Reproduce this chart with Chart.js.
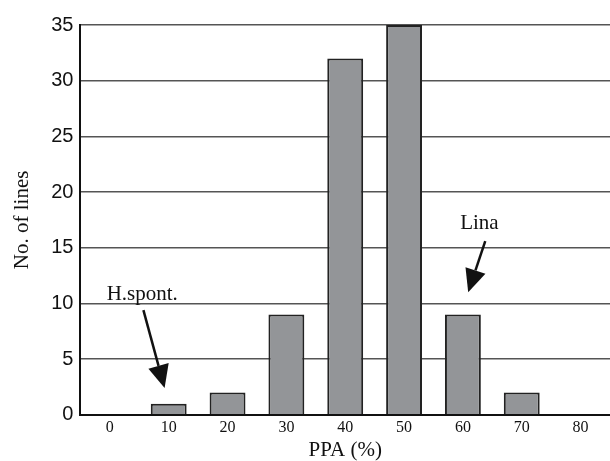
<!DOCTYPE html>
<html>
<head>
<meta charset="utf-8">
<script src="https://cdn.jsdelivr.net/npm/chart.js@4/dist/chart.umd.min.js"></script>
<style>
  html, body { margin: 0; padding: 0; background: #fff; }
  #wrap { width: 610px; height: 461px; }
</style>
</head>
<body>
<div id="wrap"><canvas id="ppaChart" width="610" height="461"></canvas></div>
<script>
// PPA histogram - number of lines per PPA class
const PPA_CLASSES = ['0', '10', '20', '30', '40', '50', '60', '70', '80'];
const LINE_COUNTS = [0, 1, 2, 9, 32, 35, 9, 2, 0];
const Y_TICKS = [0, 5, 10, 15, 20, 25, 30, 35];

// callouts, in data units (category index, count)
const CALLOUTS = [
  { text: 'H.spont.', label: [0.55, 10.8], from: [0.57, 9.4], to: [0.93, 2.4] },
  { text: 'Lina',     label: [6.28, 17.2], from: [6.38, 15.6], to: [6.09, 11.0] },
];

const SERIF = '"Liberation Serif", "DejaVu Serif", serif';
const SANS = '"Liberation Sans", Arial, sans-serif';

const calloutPlugin = {
  id: 'callouts',
  afterDatasetsDraw(chart) {
    const { ctx, scales: { x, y } } = chart;
    ctx.save();
    CALLOUTS.forEach(c => {
      const lx = x.getPixelForValue(c.label[0]), ly = y.getPixelForValue(c.label[1]);
      ctx.fillStyle = '#111';
      ctx.font = '21px ' + SERIF;
      ctx.textAlign = 'center';
      ctx.textBaseline = 'middle';
      ctx.fillText(c.text, lx, ly);

      const x1 = x.getPixelForValue(c.from[0]), y1 = y.getPixelForValue(c.from[1]);
      const x2 = x.getPixelForValue(c.to[0]), y2 = y.getPixelForValue(c.to[1]);
      const ang = Math.atan2(y2 - y1, x2 - x1);
      const headLen = 23, headHalf = 10.5;
      const bx = x2 - headLen * Math.cos(ang), by = y2 - headLen * Math.sin(ang);
      ctx.strokeStyle = '#111';
      ctx.lineWidth = 2.5;
      ctx.beginPath();
      ctx.moveTo(x1, y1);
      ctx.lineTo(bx, by);
      ctx.stroke();
      ctx.beginPath();
      ctx.moveTo(x2, y2);
      ctx.lineTo(bx + headHalf * Math.sin(ang), by - headHalf * Math.cos(ang));
      ctx.lineTo(bx - headHalf * Math.sin(ang), by + headHalf * Math.cos(ang));
      ctx.closePath();
      ctx.fill();
    });
    ctx.restore();
  }
};

new Chart(document.getElementById('ppaChart'), {
  type: 'bar',
  data: {
    labels: PPA_CLASSES,
    datasets: [{
      data: LINE_COUNTS,
      backgroundColor: '#939598',
      borderColor: '#222',
      borderWidth: 2,
      borderSkipped: 'bottom',
      barPercentage: 0.61,
      categoryPercentage: 1.0,
    }],
  },
  options: {
    responsive: false,
    animation: false,
    devicePixelRatio: 1,
    layout: { padding: { top: 25, right: 0, left: 10, bottom: 0 } },
    plugins: { legend: { display: false }, tooltip: { enabled: false } },
    scales: {
      x: {
        grid: { display: false, drawTicks: false },
        border: { display: true, color: '#111', width: 2 },
        ticks: { color: '#111', font: { family: SERIF, size: 16 }, padding: 3 },
        title: { display: true, text: 'PPA (%)', color: '#111', font: { family: SERIF, size: 21, lineHeight: 1.0 }, padding: { top: 0, bottom: 0 } },
      },
      y: {
        min: 0, max: 35,
        afterBuildTicks: (axis) => { axis.ticks = Y_TICKS.map(v => ({ value: v })); },
        grid: { color: '#555', lineWidth: 1.5, drawTicks: false },
        border: { display: true, color: '#111', width: 2 },
        ticks: { color: '#111', font: { family: SANS, size: 20 }, padding: 7 },
        title: { display: true, text: 'No. of lines', color: '#111', font: { family: SERIF, size: 21 }, padding: { top: 0, bottom: 9 } },
      },
    },
  },
  plugins: [calloutPlugin],
});
</script>
</body>
</html>
